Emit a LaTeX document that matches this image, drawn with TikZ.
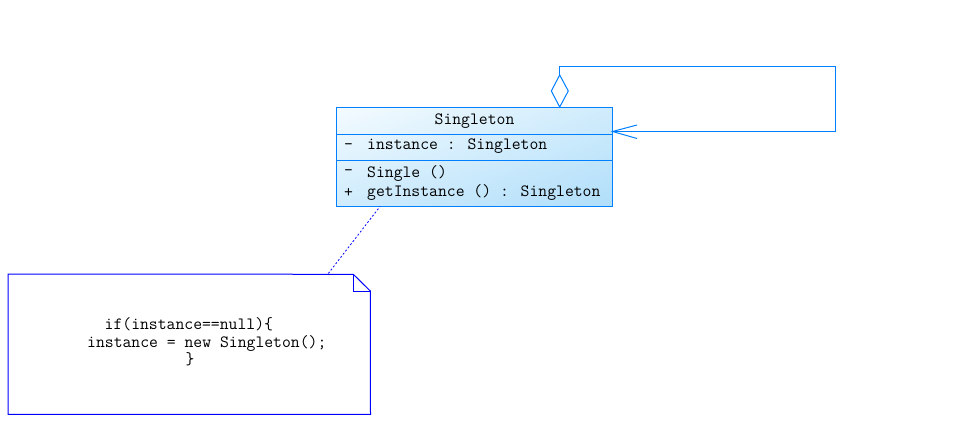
\documentclass[tikz,border=0pt]{standalone}
\usetikzlibrary{arrows.meta,shadings}
\definecolor{umlblue}{RGB}{0,128,255}
\definecolor{noteblue}{RGB}{0,0,255}
\definecolor{shadetop}{RGB}{244,251,255}
\definecolor{shademid}{RGB}{208,236,252}
\definecolor{shadebot}{RGB}{176,222,250}
\tikzset{
  code/.style={font=\ttfamily\fontsize{17.2}{20}\selectfont, inner sep=0pt, anchor=west},
  umlline/.style={draw=umlblue, line width=1pt},
}
\begin{document}
\begin{tikzpicture}[x=1pt,y=-1pt]
\useasboundingbox (0,0) rectangle (975,447);
% class box
\node (cls) [minimum width=276.5pt, minimum height=99pt, inner sep=0pt,
  upper left=shadetop, upper right=shademid, lower left=shademid, lower right=shadebot,
  draw=umlblue, line width=1pt] at (474.25,156.75) {};
\coordinate (d1l) at (336,134); \coordinate (d1r) at (612.5,134);
\coordinate (d2l) at (336,160); \coordinate (d2r) at (612.5,160);
\draw[umlline] (d1l) -- (d1r);
\draw[umlline] (d2l) -- (d2r);
\node (nm) [code, anchor=center] at (474.5,121) {Singleton};
\node (a1s) [code] at (344,146.5) {-};
\node (a1) [code] at (367,146.5) {instance : Singleton};
\node (m1s) [code] at (344,173) {-};
\node (m1) [code] at (367,173) {Single ()};
\node (m2s) [code] at (344,192.5) {+};
\node (m2) [code] at (367,192.5) {getInstance () : Singleton};
% self aggregation
\coordinate (dbot) at (559.7,107);
\coordinate (dtop) at (559.7,75);
\coordinate (dl) at (551.3,91);
\coordinate (dr) at (568.3,91);
\coordinate (c1) at (559.7,66.5);
\coordinate (c2) at (835.5,66.5);
\coordinate (c3) at (835.5,131.5);
\coordinate (tip) at (612.5,131.5);
\coordinate (arm1) at (637,125);
\coordinate (arm2) at (637,138.5);
\draw[umlline, fill=white] (dbot) -- (dl) -- (dtop) -- (dr) -- cycle;
\draw[umlline] (dtop) -- (c1) -- (c2) -- (c3) -- (tip);
\draw[umlline] (arm1) -- (tip) -- (arm2);
% note
\node (note) [minimum width=362pt, minimum height=140pt, inner sep=0pt] at (189.3,344.2) {};
\coordinate (fa) at (353.3,274.3);
\coordinate (fb) at (370.3,291);
\coordinate (fc) at (353.3,291);
\draw[draw=noteblue, line width=1pt] (note.north west) -- (fa) -- (fb) -- (note.south east) -- (note.south west) -- cycle;
\draw[draw=noteblue, line width=0.8pt] (fa) -- (fc) -- (fb);
\coordinate (lk) at (328.3,273.5);
\coordinate (lc) at (380,206.5);
\draw[noteblue, line width=0.8pt, dash pattern=on 2pt off 2pt] (lk) -- (lc);
\node (t1) [code] at (104.5,324.5) {if(instance==null)\{};
\node (t2) [code] at (87,343) {instance = new Singleton();};
\node (t3) [code] at (185.5,359.5) {\}};
\end{tikzpicture}
\end{document}
